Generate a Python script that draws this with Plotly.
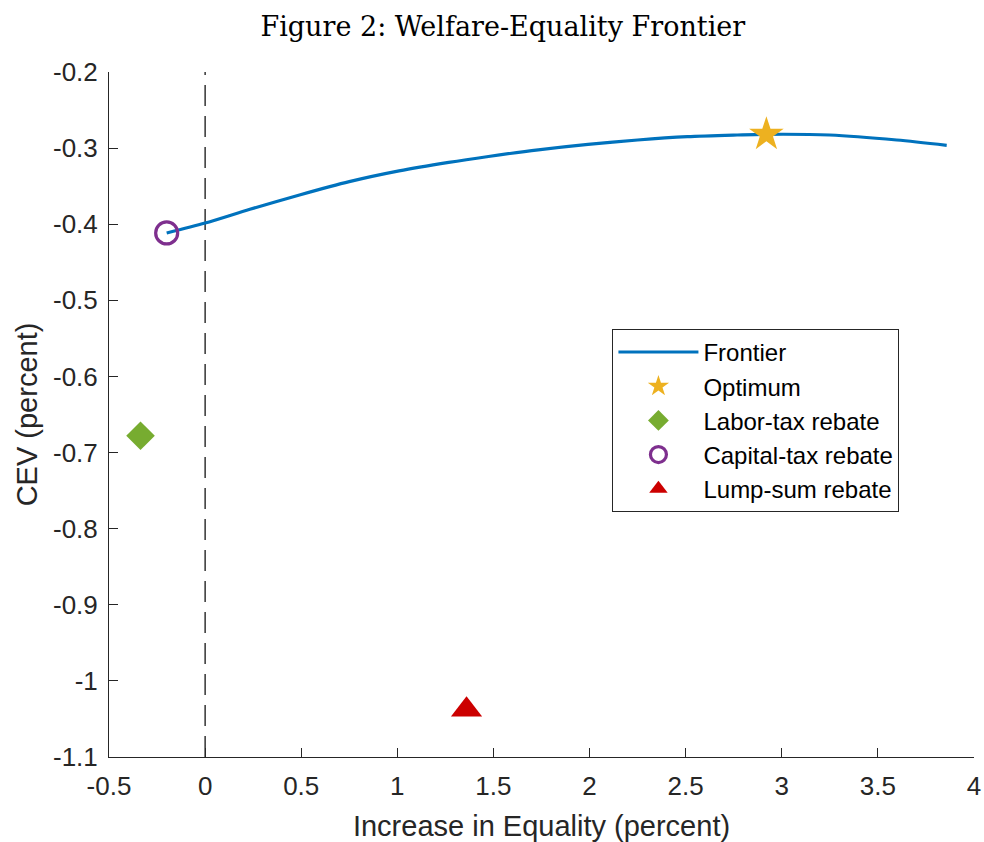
import plotly.graph_objects as go

# Frontier curve
frontier_x = [-0.20, 0.0, 0.233, 0.491, 0.750, 1.009, 1.267, 1.474, 1.733, 1.992,
              2.250, 2.509, 2.768, 2.918, 3.249, 3.598, 3.858]
frontier_y = [-0.4115, -0.3985, -0.3804, -0.3616, -0.3441, -0.3300, -0.3188, -0.3110,
              -0.3022, -0.2950, -0.2893, -0.2850, -0.2828, -0.2819, -0.2828, -0.2893, -0.2963]

optimum_x = [2.92]
optimum_y = [-0.282]
labor_x = [-0.336]
labor_y = [-0.678]
capital_x = [-0.20]
capital_y = [-0.4115]
lump_x = [1.36]
lump_y = [-1.038]

x_ticks = [-0.5, 0, 0.5, 1, 1.5, 2, 2.5, 3, 3.5, 4]
x_tick_labels = ["-0.5", "0", "0.5", "1", "1.5", "2", "2.5", "3", "3.5", "4"]
y_ticks = [-1.1, -1.0, -0.9, -0.8, -0.7, -0.6, -0.5, -0.4, -0.3, -0.2]
y_tick_labels = ["-1.1", "-1", "-0.9", "-0.8", "-0.7", "-0.6", "-0.5", "-0.4", "-0.3", "-0.2"]

AX = "#262626"
SANS = "Liberation Sans, Arial, sans-serif"

fig = go.Figure()
fig.add_trace(go.Scatter(x=frontier_x, y=frontier_y, mode="lines", name="Frontier",
                         line=dict(color="#0072BD", width=3.2, shape="spline", smoothing=0.8),
                         legendgroup="a"))
fig.add_trace(go.Scatter(x=optimum_x, y=optimum_y, mode="markers", name="Optimum",
                         marker=dict(symbol="star", size=26, color="#EDB120"),
                         legendgroup="b"))
fig.add_trace(go.Scatter(x=labor_x, y=labor_y, mode="markers", name="Labor-tax rebate",
                         marker=dict(symbol="diamond", size=22, color="#77AC30"),
                         legendgroup="c"))
fig.add_trace(go.Scatter(x=capital_x, y=capital_y, mode="markers", name="Capital-tax rebate",
                         marker=dict(symbol="circle-open", size=22, color="#7E2F8E",
                                     line=dict(width=3.2, color="#7E2F8E")),
                         legendgroup="d"))
fig.add_trace(go.Scatter(x=lump_x, y=lump_y, mode="markers", name="Lump-sum rebate",
                         marker=dict(symbol="triangle-up", size=27, color="#CC0000"),
                         legendgroup="e"))

fig.add_shape(type="line", xref="x", yref="y", x0=0, x1=0, y0=-1.1, y1=-0.2,
              line=dict(color="#000000", width=1.2, dash="21px,10px"), layer="below")

fig.update_layout(
    width=984, height=842,
    margin=dict(l=109, r=10, t=72, b=85),
    paper_bgcolor="white", plot_bgcolor="white",
    title=dict(text="Figure 2: Welfare-Equality Frontier", xref="container", x=0.511,
               xanchor="center", yref="container", y=0.968, yanchor="middle",
               font=dict(family="DejaVu Serif, serif", size=27, color="#000000")),
    showlegend=True,
    legend=dict(x=0.582, y=0.625, xanchor="left", yanchor="top",
                bgcolor="white", bordercolor=AX, borderwidth=1,
                font=dict(family=SANS, size=24, color="#000000"),
                itemwidth=80, traceorder="grouped", tracegroupgap=0),
    font=dict(family=SANS, color=AX),
)
fig.update_xaxes(range=[-0.5, 4], tickmode="array", tickvals=x_ticks, ticktext=x_tick_labels,
                 ticks="inside", ticklen=9, tickwidth=1, tickcolor=AX,
                 showline=True, linecolor=AX, linewidth=1, showgrid=False, zeroline=False,
                 ticklabelstandoff=6, automargin=False,
                 tickfont=dict(family=SANS, size=26, color=AX),
                 title=dict(text="Increase in Equality (percent)", standoff=15,
                            font=dict(family=SANS, size=29, color=AX)))
fig.update_yaxes(range=[-1.1, -0.2], tickmode="array", tickvals=y_ticks, ticktext=y_tick_labels,
                 ticks="inside", ticklen=9, tickwidth=1, tickcolor=AX,
                 showline=True, linecolor=AX, linewidth=1, showgrid=False, zeroline=False,
                 ticklabelstandoff=5, automargin=False,
                 tickfont=dict(family=SANS, size=26, color=AX),
                 title=dict(text="CEV (percent)", standoff=6,
                            font=dict(family=SANS, size=29, color=AX)))

fig.write_html("out.html")
